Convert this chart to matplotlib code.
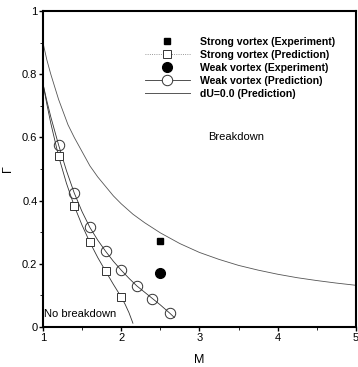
"""Vortex breakdown boundary: swirl ratio vs Mach number."""

import matplotlib
matplotlib.use("Agg")
import matplotlib.pyplot as plt
from matplotlib.ticker import MultipleLocator

plt.rcParams["font.family"] = ["Liberation Sans", "DejaVu Sans"]

# ── Data ─────────────────────────────────────────────────────────────────
strong_exp_m = [2.5]
strong_exp_g = [0.272]
weak_exp_m = [2.5]
weak_exp_g = [0.17]

strong_pred_m = [1.2, 1.4, 1.6, 1.8, 2.0]
strong_pred_g = [0.54, 0.383, 0.268, 0.177, 0.095]
strong_line_m = [1.0, 1.05, 1.1, 1.2, 1.3, 1.4, 1.5, 1.6, 1.7, 1.8, 1.9, 2.0,
                 2.05, 2.1, 2.15]
strong_line_g = [0.77, 0.705, 0.645, 0.54, 0.455, 0.383, 0.322, 0.268, 0.22,
                 0.177, 0.135, 0.095, 0.072, 0.045, 0.012]

weak_pred_m = [1.2, 1.4, 1.6, 1.8, 2.0, 2.2, 2.4, 2.62]
weak_pred_g = [0.576, 0.424, 0.315, 0.24, 0.18, 0.13, 0.09, 0.044]
weak_line_m = [1.0, 1.05, 1.1, 1.2, 1.3, 1.4, 1.5, 1.6, 1.7, 1.8, 1.9, 2.0,
               2.1, 2.2, 2.3, 2.4, 2.5, 2.62, 2.68]
weak_line_g = [0.77, 0.715, 0.665, 0.576, 0.495, 0.424, 0.365, 0.315, 0.275,
               0.24, 0.208, 0.18, 0.154, 0.13, 0.11, 0.09, 0.07, 0.044, 0.03]

du_m = [1.0, 1.05, 1.1, 1.15, 1.2, 1.26, 1.32, 1.4, 1.5, 1.6, 1.7, 1.8,
        1.9, 2.0, 2.15, 2.3, 2.5, 2.75, 3.0, 3.25, 3.5, 3.75, 4.0, 4.25,
        4.5, 4.75, 5.0]
du_g = [0.90, 0.845, 0.80, 0.76, 0.72, 0.68, 0.64, 0.60, 0.555, 0.51,
        0.475, 0.445, 0.415, 0.39, 0.357, 0.33, 0.298, 0.264, 0.236, 0.214,
        0.195, 0.18, 0.167, 0.156, 0.147, 0.139, 0.132]

fig = plt.figure(figsize=(3.58, 3.67), dpi=100)
ax = fig.add_axes([0.120, 0.109, 0.874, 0.861])

line_kw = dict(color="#333333", linewidth=0.6)
ax.plot(strong_line_m, strong_line_g, **line_kw)
ax.plot(weak_line_m, weak_line_g, **line_kw)
ax.plot(du_m, du_g, color="#555555", linewidth=0.6)
ax.plot(strong_pred_m, strong_pred_g, "s", mfc="white", mec="#333333",
        markersize=5.5, markeredgewidth=0.7, linestyle="none")
ax.plot(weak_pred_m, weak_pred_g, "o", mfc="none", mec="#333333",
        markersize=7.5, markeredgewidth=0.7, linestyle="none")
ax.plot(strong_exp_m, strong_exp_g, "s", color="black", markersize=5,
        linestyle="none")
ax.plot(weak_exp_m, weak_exp_g, "o", color="black", markersize=7,
        linestyle="none")

# legend proxies so the lines carry their markers
h_sexp, = ax.plot([], [], "s", color="black", markersize=5)
h_spred, = ax.plot([], [], "s", mfc="white", mec="#333333", markersize=5.5,
                   markeredgewidth=0.7, color="#777777", linewidth=0.6,
                   linestyle=":")
h_wexp, = ax.plot([], [], "o", color="black", markersize=7)
h_wpred, = ax.plot([], [], "o", mfc="white", mec="#333333", markersize=7.5,
                   markeredgewidth=0.7, color="#333333", linewidth=0.6,
                   linestyle="-")
h_du, = ax.plot([], [], color="#555555", linewidth=0.7)
ax.legend([h_sexp, h_spred, h_wexp, h_wpred, h_du],
          ["Strong vortex (Experiment)", "Strong vortex (Prediction)",
           "Weak vortex (Experiment)", "Weak vortex (Prediction)",
           "dU=0.0 (Prediction)"],
          loc="upper left", bbox_to_anchor=(0.31, 0.935), frameon=False,
          prop=dict(weight="bold", size=7.6), handlelength=4.2,
          handletextpad=1.0, labelspacing=0.28, borderpad=0)

ax.text(3.11, 0.60, "Breakdown", fontsize=8, va="center", ha="left")
ax.text(1.01, 0.04, "No breakdown", fontsize=8, va="center", ha="left")

ax.set_xlim(1, 5)
ax.set_ylim(0, 1)
ax.xaxis.set_major_locator(MultipleLocator(1))
ax.xaxis.set_minor_locator(MultipleLocator(0.5))
ax.yaxis.set_major_locator(MultipleLocator(0.2))
ax.yaxis.set_minor_locator(MultipleLocator(0.1))
ax.set_yticks([0, 0.2, 0.4, 0.6, 0.8, 1.0])
ax.set_yticklabels(["0", "0.2", "0.4", "0.6", "0.8", "1"])
ax.tick_params(which="major", direction="out", length=3, width=1, labelsize=8, pad=1)
ax.tick_params(which="minor", direction="out", length=2, width=0.6)
for s in ax.spines.values():
    s.set_linewidth(1.5)

ax.set_xlabel("M", fontsize=9, labelpad=8)
ax.set_ylabel("Γ", fontsize=9, labelpad=6)

fig.savefig("out.png", dpi=100)
